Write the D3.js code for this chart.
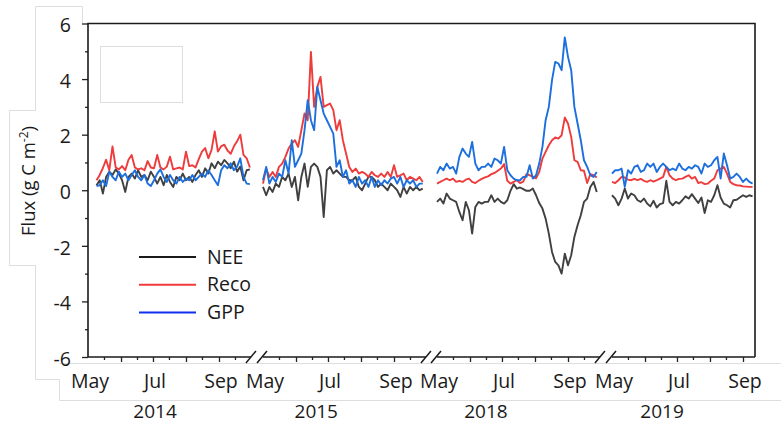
<!DOCTYPE html>
<html>
<head>
<meta charset="utf-8">
<script src="https://cdn.jsdelivr.net/npm/d3@7"></script>
<style>
  body { margin: 0; background: #fff; }
  svg text { font-family: "Open Sans", sans-serif; fill: #1a1a1a; }
</style>
</head>
<body>
<svg id="chart" width="781" height="425"></svg>
<script>
// seasons shown, one panel each (May to end of Sep)
const years = [2014, 2015, 2018, 2019];
const firstDay = [8, 0, 0, 0];   // days after May 1 of first value
const stepDays = 3;

// daily fluxes, every 3rd day (g C m-2)
const nee2014 = [0.18,0.36,-0.12,0.48,0.67,0.55,0.75,0.6,0.36,-0.06,0.48,0.6,0.42,0.72,0.48,0.55,0.36,0.67,0.48,0.24,0.48,0.18,0.55,0.3,0.12,0.48,0.36,0.6,0.36,0.48,0.3,0.55,0.72,0.48,0.79,0.6,0.97,0.79,1.03,0.9,1.09,0.97,0.79,1.03,0.67,0.85,0.36,0.72,0.75];
const reco2014 = [0.36,0.55,0.8,1.1,0.72,1.58,0.82,0.75,0.87,0.72,1.1,1.27,0.82,0.75,0.79,0.72,1.05,0.82,0.79,1.27,0.82,0.75,0.85,1.21,0.75,0.79,0.82,0.75,1.39,0.87,0.9,0.82,1.12,1.39,1.52,1.15,1.45,2.12,1.39,1.58,1.64,1.43,1.31,1.58,1.76,2.0,1.27,1.15,0.82];
const gpp2014 = [0.15,0.18,0.36,0.15,0.67,0.48,0.36,0.67,0.48,0.6,0.36,0.55,0.72,0.48,0.36,0.55,0.24,0.15,0.36,0.6,0.75,0.48,0.3,0.55,0.36,0.24,0.48,0.3,0.42,0.36,0.55,0.36,0.48,0.6,0.48,0.72,0.55,0.36,0.18,0.72,0.9,0.79,0.97,0.72,0.85,1.15,0.48,0.24,0.22];

const nee2015 = [0.12,-0.18,0.12,-0.06,0.24,0.12,0.48,0.36,0.6,0.12,0.48,-0.36,0.48,0.96,0.12,0.84,0.96,0.84,0.48,-0.96,0.72,0.84,0.6,0.72,0.6,0.48,0.48,0.36,0.36,0.48,0.12,0,0.24,0.48,0.48,0.36,0.12,0.24,0.12,0,0.24,0.12,0,-0.24,0.12,-0.12,0.12,0,0.12,0,0.06];
const reco2015 = [0.24,0.78,0.48,0.66,0.48,0.84,0.96,1.2,1.5,1.68,1.8,1.56,2.16,2.76,2.52,4.98,3.0,3.72,4.08,3.0,3.06,3.12,2.88,2.16,2.52,1.8,1.32,0.84,0.66,0.78,0.6,0.66,0.6,0.48,0.66,0.54,0.48,0.6,0.48,0.66,0.48,0.9,0.48,0.54,0.6,0.36,0.48,0.42,0.36,0.48,0.3];
const gpp2015 = [0.36,0.84,0.24,0.48,0.3,0.6,0.48,1.08,0.6,1.8,0.84,1.08,1.32,2.16,3.24,2.52,2.16,3.72,3.24,2.76,2.52,2.28,2.04,0.84,1.08,0.48,0.72,0.24,0.36,0.12,0.48,0.24,0.36,0.12,0.48,0.12,0.36,0.18,0.36,0.24,0.42,0.48,0.24,0.48,0.12,0.36,0.24,0.36,0.12,0.24,0.24];

const nee2018 = [-0.42,-0.3,-0.48,-0.12,-0.3,-0.36,-0.42,-0.78,-1.08,-0.42,-0.72,-1.56,-0.6,-0.42,-0.48,-0.42,-0.42,-0.18,-0.42,-0.3,-0.42,-0.48,-0.36,-0.02,0.22,0.06,0.1,0.04,-0.02,-0.02,0.06,-0.18,-0.46,-0.66,-1.02,-1.56,-2.22,-2.58,-2.7,-3.0,-2.28,-2.7,-2.34,-1.68,-1.26,-0.9,-0.42,-0.3,0.12,0.3,-0.06];
const reco2018 = [0.24,0.3,0.36,0.42,0.36,0.42,0.3,0.34,0.3,0.38,0.42,0.3,0.26,0.34,0.41,0.46,0.5,0.58,0.62,0.7,0.78,0.94,0.34,0.24,0.3,0.36,0.26,0.31,0.58,0.54,0.48,0.43,0.66,1.14,1.38,1.62,1.8,1.9,1.86,1.98,2.62,2.4,1.92,1.08,1.02,0.72,0.7,0.26,0.58,0.54,0.46];
const gpp2018 = [0.6,0.84,0.72,0.96,0.78,0.84,0.6,1.2,1.5,1.32,1.2,1.74,0.96,0.72,0.84,0.84,0.96,0.84,1.14,1.08,0.96,1.56,0.72,0.54,0.42,0.36,0.36,0.48,0.48,0.9,0.42,0.54,0.96,1.56,2.52,3.0,3.96,4.62,4.56,4.32,5.5,4.8,4.32,3.0,2.4,1.8,1.08,0.84,0.54,0.48,0.66];

const nee2019 = [-0.18,-0.3,-0.54,-0.3,0.06,-0.3,-0.12,-0.18,-0.36,-0.42,-0.3,-0.48,-0.58,-0.38,-0.62,-0.5,-0.46,0.34,-0.42,-0.54,-0.42,-0.48,-0.36,-0.22,-0.3,-0.14,-0.3,-0.46,-0.26,-0.82,-0.36,-0.42,-0.18,0.18,-0.26,-0.48,-0.54,-0.62,-0.36,-0.34,-0.26,-0.18,-0.24,-0.18,-0.22];
const reco2019 = [0.3,0.26,0.36,0.48,0.46,0.38,0.36,0.41,0.36,0.41,0.34,0.3,0.36,0.31,0.36,0.42,0.48,0.84,0.54,0.42,0.36,0.41,0.42,0.48,0.54,0.42,0.48,0.26,0.29,0.22,0.24,0.34,0.42,0.72,0.78,0.84,0.6,0.3,0.22,0.18,0.17,0.14,0.13,0.12,0.12];
const gpp2019 = [0.6,0.72,0.72,0.78,0.12,0.72,0.6,0.84,0.9,0.66,0.72,0.96,0.84,0.96,0.66,0.84,0.96,0.84,0.72,0.78,0.72,0.96,0.78,0.72,0.84,0.78,0.9,0.84,0.6,0.96,0.84,0.9,1.08,1.2,0.42,1.32,0.9,0.42,0.48,0.6,0.48,0.3,0.42,0.3,0.24];

const seriesNames = ["NEE", "Reco", "GPP"];
const seriesByYear = [
  [nee2014, reco2014, gpp2014],
  [nee2015, reco2015, gpp2015],
  [nee2018, reco2018, gpp2018],
  [nee2019, reco2019, gpp2019]
];
const monthLabels = ["May", "Jul", "Sep"];
const yMajor = [-6, -4, -2, 0, 2, 4, 6];
const yMinor = [-5, -3, -1, 1, 3, 5];

// layout
const lineColors = ["#404040", "#ee3b3b", "#1c6fdd"];
const legendColors = ["#1a1a1a", "#f03a3a", "#1030f0"];
const plotTop = 23.5, plotBottom = 357, plotLeft = 88, plotRight = 755;
const segLeft = [88, 263, 437, 612];
const pxPerDay = 1.065;
const yearLabelDay = [63, 50, 46, 47];

const svg = d3.select("#chart");

// faint text-box outlines left over in the original figure
const ghost = svg.append("g").attr("fill", "none").attr("stroke", "#dedede").attr("stroke-width", 1);
ghost.append("path")
  .attr("d", "M82.5,23 V6.5 H35.5 V110.5 H9.5 V265.5 H35.5 V379.5 H59.5 V400.5 H781");
ghost.append("path").attr("d", "M59.5,363.5 H781");
ghost.append("rect").attr("x", 100.5).attr("y", 46.5).attr("width", 82).attr("height", 56);

const y = d3.scaleLinear().domain([-6, 6]).range([plotBottom, plotTop]);

// y axis
const yAxis = svg.append("g").attr("transform", `translate(${plotLeft},0)`)
  .call(d3.axisLeft(y).tickValues(yMajor).tickSize(6).tickPadding(11).tickFormat(d => d));
yAxis.select(".domain").remove();
yAxis.selectAll("text").attr("font-size", 19.5).attr("dy", "0.42em");
svg.append("g").attr("transform", `translate(${plotLeft},0)`)
  .call(d3.axisLeft(y).tickValues(yMinor).tickSize(3).tickFormat(""))
  .select(".domain").remove();
svg.selectAll(".tick line").attr("stroke", "#222").attr("stroke-width", 1.3);

// frame
const frame = svg.append("g").attr("stroke", "#1a1a1a").attr("stroke-width", 1.6).attr("fill", "none");
frame.append("path").attr("d", `M${plotLeft},${plotBottom} V${plotTop} H${plotRight} V${plotBottom}`);

const line = d3.line();

years.forEach((yr, i) => {
  const start = new Date(yr, 4, 1);
  const end = new Date(yr, 9, 1);
  const x = d3.scaleTime().domain([start, end]).range([segLeft[i], segLeft[i] + 153 * pxPerDay]);
  const segEnd = Math.min(x(end), plotRight);
  const visible = d => x(d) <= plotRight + 0.5;

  // axis base line for this panel
  frame.append("line")
    .attr("x1", segLeft[i]).attr("x2", segEnd)
    .attr("y1", plotBottom).attr("y2", plotBottom);

  const majors = d3.timeMonth.range(new Date(yr, 5, 1), end).filter(visible);
  const minors = d3.timeMonth.range(start, end).map(m => d3.timeDay.offset(m, 15)).filter(visible);

  const gx = svg.append("g").attr("transform", `translate(0,${plotBottom})`);
  gx.append("g").call(d3.axisBottom(x).tickValues(majors).tickSize(5).tickFormat(""))
    .select(".domain").remove();
  gx.append("g").call(d3.axisBottom(x).tickValues(minors).tickSize(3).tickFormat(""))
    .select(".domain").remove();
  gx.selectAll(".tick line").attr("stroke", "#222").attr("stroke-width", 1.3);

  // month labels
  svg.append("g").selectAll("text")
    .data(monthLabels.map((m, k) => ({ m, date: new Date(yr, 4 + 2 * k, 1) })))
    .join("text")
    .attr("x", d => x(d.date) + 2)
    .attr("y", 388)
    .attr("text-anchor", "middle")
    .attr("font-size", 19.5)
    .text(d => d.m);

  // year label
  svg.append("text")
    .attr("x", x(d3.timeDay.offset(start, yearLabelDay[i])))
    .attr("y", 418)
    .attr("text-anchor", "middle")
    .attr("font-size", 19)
    .text(yr);

  // break marks
  if (i > 0) {
    svg.append("line").attr("x1", segLeft[i] - 6).attr("y1", plotBottom + 6)
      .attr("x2", segLeft[i] + 4).attr("y2", plotBottom - 6)
      .attr("stroke", "#1a1a1a").attr("stroke-width", 1.5);
  }
  if (i < years.length - 1) {
    svg.append("line").attr("x1", segEnd - 5).attr("y1", plotBottom + 6)
      .attr("x2", segEnd + 5).attr("y2", plotBottom - 6)
      .attr("stroke", "#1a1a1a").attr("stroke-width", 1.5);
  }

  // flux lines
  seriesByYear[i].forEach((vals, s) => {
    const pts = vals.map((v, k) => [x(d3.timeDay.offset(start, firstDay[i] + k * stepDays)), y(v)]);
    svg.append("path")
      .attr("d", line(pts))
      .attr("fill", "none")
      .attr("stroke", lineColors[s])
      .attr("stroke-width", 1.9)
      .attr("stroke-linejoin", "round");
  });
});

// y label
const yl = svg.append("text")
  .attr("transform", "translate(35,181) rotate(-90)")
  .attr("text-anchor", "middle")
  .attr("font-size", 18.5);
yl.append("tspan").text("Flux (g C m");
yl.append("tspan").attr("font-size", 12).attr("dy", -7).text("-2");
yl.append("tspan").attr("dy", 7).text(")");

// legend
const legend = svg.append("g").selectAll("g")
  .data(seriesNames)
  .join("g")
  .attr("transform", (d, i) => `translate(139,${257 + i * 27.8})`);
legend.append("line")
  .attr("x1", 0).attr("x2", 57)
  .attr("stroke", (d, i) => legendColors[i])
  .attr("stroke-width", 2);
legend.append("text")
  .attr("x", 68).attr("y", 6.5)
  .attr("font-size", 19.5)
  .text(d => d);
</script>
</body>
</html>
